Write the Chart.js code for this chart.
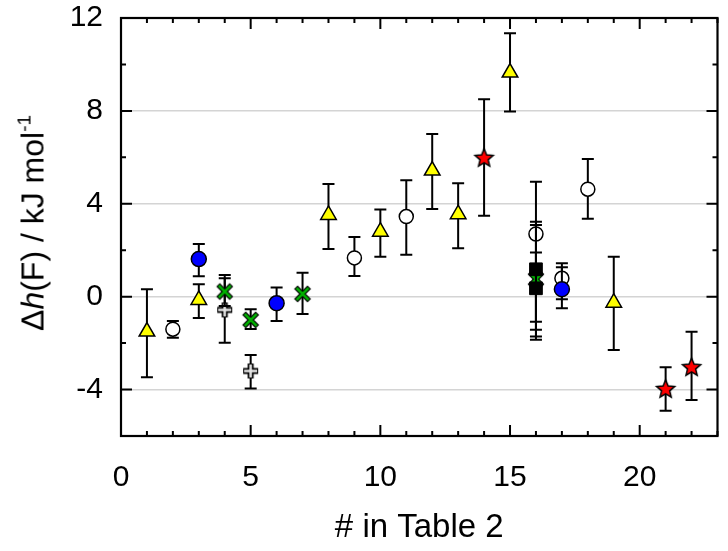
<!DOCTYPE html>
<html>
<head>
<meta charset="utf-8">
<script src="https://cdn.jsdelivr.net/npm/chart.js@4.4.0/dist/chart.umd.min.js"></script>
<style>
  html, body { margin: 0; padding: 0; background: #fff; }
  #wrap { position: relative; width: 728px; height: 551px; }
  #ytitle {
    position: absolute; left: 33px; top: 223px;
    transform: translate(-50%, -50%) rotate(-90deg);
    white-space: nowrap; color: #000;
    font: 32px "Liberation Sans", Arial, sans-serif;
  }
  #ytitle sup { font-size: 19px; vertical-align: 13px; line-height: 0; }
</style>
</head>
<body>
<div id="wrap">
  <canvas id="chart" width="728" height="551"></canvas>
  <div id="ytitle">Δ<i>h</i>(F) / kJ mol<sup>-1</sup></div>
</div>
<script>
// valeurs : position, valeur, bas et haut de la barre d'erreur
const triX = [1, 3, 8, 10, 12, 13, 15, 19];
const triY = [-1.5, -0.14, 3.52, 2.8, 5.43, 3.55, 9.65, -0.26];
const triLo = [-3.47, -0.92, 2.05, 1.72, 3.78, 2.08, 7.97, -2.3];
const triHi = [0.32, 0.53, 4.85, 3.75, 7.0, 4.88, 11.34, 1.72];

const openX = [2, 9, 11, 16, 17, 18];
const openY = [-1.4, 1.67, 3.45, 2.7, 0.79, 4.63];
const openLo = [-1.77, 0.89, 1.8, -1.08, -0.11, 3.35];
const openHi = [-1.05, 2.57, 5.01, 3.23, 1.44, 5.93];

const blueX = [3, 6, 17];
const blueY = [1.62, -0.28, 0.32];
const blueLo = [0.88, -1.05, -0.5];
const blueHi = [2.27, 0.4, 1.27];

const greenX = [4, 5, 7, 16];
const greenY = [0.22, -1.0, 0.12, 0.75];
const greenLo = [-0.4, -1.39, -0.75, -1.43];
const greenHi = [0.93, -0.54, 1.03, 1.9];

const crossX = [4, 5];
const crossY = [-0.57, -3.2];
const crossLo = [-1.98, -3.95];
const crossHi = [0.79, -2.51];

const squareX = [16, 16];
const squareY = [1.18, 0.36];
const squareLo = [-1.72, -1.86];
const squareHi = [4.95, 3.09];

const starX = [14, 21, 22];
const starY = [6.0, -3.95, -3.01];
const starLo = [3.48, -4.91, -4.45];
const starHi = [8.5, -3.04, -1.51];

const xTicks = [0, 5, 10, 15, 20];
const yTicks = [-4, 0, 4, 8, 12];
const yGrid = [-4, 0, 4, 8];

const FONT = '"Liberation Sans", Arial, sans-serif';

function pts(xs, ys, lo, hi) {
  return xs.map((v, i) => ({ x: v, y: ys[i], lo: lo[i], hi: hi[i] }));
}

function starImg(r) {
  const s = Math.ceil(r * 2 + 4);
  const c = document.createElement('canvas');
  c.width = c.height = s;
  const g = c.getContext('2d');
  g.translate(s / 2, s / 2 + 1);
  g.beginPath();
  for (let i = 0; i < 10; i++) {
    const rr = i % 2 ? r * 0.45 : r;
    const a = -Math.PI / 2 + i * Math.PI / 5;
    g.lineTo(rr * Math.cos(a), rr * Math.sin(a));
  }
  g.closePath();
  g.fillStyle = '#ff0000';
  g.fill();
  g.lineWidth = 1.5;
  g.strokeStyle = '#000';
  g.stroke();
  return c;
}

function xImg(a) {
  const s = a * 2 + 8;
  const c = document.createElement('canvas');
  c.width = c.height = s;
  const g = c.getContext('2d');
  g.translate(s / 2, s / 2);
  const seg = (d, w, col) => {
    g.beginPath();
    g.moveTo(-d, -d); g.lineTo(d, d);
    g.moveTo(-d, d); g.lineTo(d, -d);
    g.lineWidth = w; g.strokeStyle = col; g.stroke();
  };
  seg(a + 0.7, 5, '#000');
  seg(a, 2.5, '#00b000');
  return c;
}

function crossImg(a) {
  const s = a * 2 + 8;
  const c = document.createElement('canvas');
  c.width = c.height = s;
  const g = c.getContext('2d');
  g.translate(s / 2, s / 2);
  const seg = (d, w, col) => {
    g.beginPath();
    g.moveTo(-d, 0); g.lineTo(d, 0);
    g.moveTo(0, -d); g.lineTo(0, d);
    g.lineWidth = w; g.strokeStyle = col; g.stroke();
  };
  seg(a + 1, 6, '#000');
  seg(a, 2.5, '#e6e6e6');
  return c;
}

const errorBars = {
  id: 'errorBars',
  beforeDatasetDraw(chart, args) {
    const ds = chart.data.datasets[args.index];
    const { ctx, scales: { x, y } } = chart;
    ctx.save();
    ctx.strokeStyle = '#000';
    ctx.lineWidth = 2;
    ds.data.forEach(p => {
      const px = x.getPixelForValue(p.x);
      const lo = y.getPixelForValue(p.lo);
      const hi = y.getPixelForValue(p.hi);
      ctx.beginPath();
      ctx.moveTo(px, lo); ctx.lineTo(px, hi);
      ctx.moveTo(px - 6, lo); ctx.lineTo(px + 6, lo);
      ctx.moveTo(px - 6, hi); ctx.lineTo(px + 6, hi);
      ctx.stroke();
    });
    ctx.restore();
  },
  afterDraw(chart) {
    const { ctx, chartArea: a, scales: { x, y } } = chart;
    ctx.save();
    ctx.strokeStyle = '#000';
    ctx.lineWidth = 2;
    ctx.beginPath();
    for (let v = x.min; v <= x.max; v++) {
      const px = x.getPixelForValue(v);
      const len = v % 5 === 0 ? 11 : 5;
      ctx.moveTo(px, a.bottom); ctx.lineTo(px, a.bottom - len);
      ctx.moveTo(px, a.top); ctx.lineTo(px, a.top + len);
    }
    for (let v = y.min; v <= y.max; v += 2) {
      const py = y.getPixelForValue(v);
      const len = v % 4 === 0 ? 11 : 5;
      ctx.moveTo(a.left, py); ctx.lineTo(a.left + len, py);
      ctx.moveTo(a.right, py); ctx.lineTo(a.right - len, py);
    }
    ctx.stroke();
    ctx.lineWidth = 2.2;
    ctx.strokeRect(a.left, a.top, a.right - a.left, a.bottom - a.top);
    ctx.restore();
  }
};

new Chart(document.getElementById('chart'), {
  type: 'scatter',
  data: {
    datasets: [
      { data: pts(blueX, blueY, blueLo, blueHi), pointStyle: 'circle', pointRadius: 7.5,
        backgroundColor: '#0000ff', borderColor: '#000', borderWidth: 1.5 },
      { data: pts(squareX, squareY, squareLo, squareHi), pointStyle: 'rect', pointRadius: 9,
        backgroundColor: '#000', borderColor: '#000', borderWidth: 1 },
      { data: pts(greenX, greenY, greenLo, greenHi), pointStyle: xImg(6), pointRadius: 7 },
      { data: pts(crossX, crossY, crossLo, crossHi), pointStyle: crossImg(6.5), pointRadius: 7 },
      { data: pts(openX, openY, openLo, openHi), pointStyle: 'circle', pointRadius: 7,
        backgroundColor: '#fff', borderColor: '#000', borderWidth: 1.5 },
      { data: pts(triX, triY, triLo, triHi), pointStyle: 'triangle', pointRadius: 9,
        backgroundColor: '#ffff00', borderColor: '#000', borderWidth: 1.5 },
      { data: pts(starX, starY, starLo, starHi), pointStyle: starImg(9.5), pointRadius: 9 }
    ]
  },
  options: {
    responsive: false,
    animation: false,
    devicePixelRatio: 1,
    layout: { padding: { top: 18, right: 6, left: 0, bottom: 0 } },
    plugins: { legend: { display: false }, tooltip: { enabled: false } },
    scales: {
      x: {
        type: 'linear', min: 0, max: 23,
        afterBuildTicks: s => { s.ticks = xTicks.map(v => ({ value: v })); },
        afterFit: s => { s.height = 115; s.paddingLeft = 0; s.paddingRight = 0; },
        grid: { display: false },
        border: { display: false },
        ticks: { color: '#000', padding: 16, maxRotation: 0, font: { family: FONT, size: 30 } },
        title: { display: true, text: '# in Table 2', color: '#000',
          padding: { top: 0, bottom: 3 }, font: { family: FONT, size: 33 } }
      },
      y: {
        type: 'linear', min: -6, max: 12,
        afterBuildTicks: s => { s.ticks = yTicks.map(v => ({ value: v })); },
        afterFit: s => { s.width = 121; s.paddingTop = 0; s.paddingBottom = 0; },
        grid: {
          drawTicks: false, lineWidth: 1.5,
          color: c => yGrid.includes(c.tick.value) ? '#d4d4d4' : 'rgba(0,0,0,0)'
        },
        border: { display: false },
        ticks: { color: '#000', padding: 18, font: { family: FONT, size: 30 } }
      }
    }
  },
  plugins: [errorBars]
});
</script>
</body>
</html>
